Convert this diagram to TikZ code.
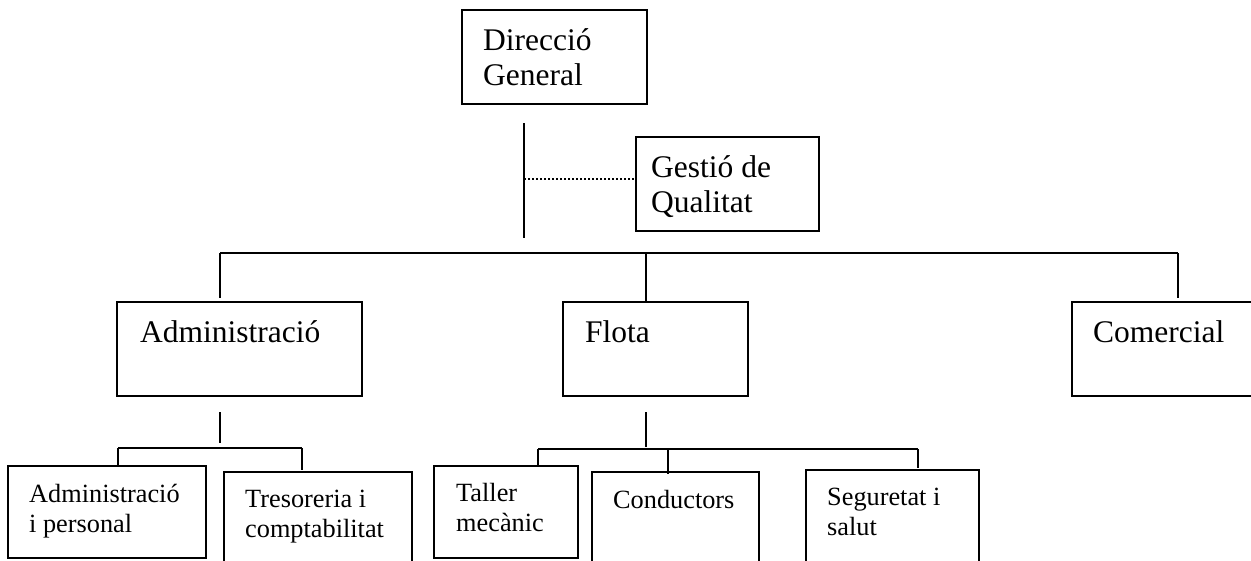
\documentclass[tikz,border=0pt]{standalone}
\usepackage{fontspec}
\setmainfont{Liberation Serif}
\usetikzlibrary{calc}
\begin{document}
\begin{tikzpicture}[x=1pt,y=-1pt,
  box/.style={draw, line width=1.5pt, rectangle, inner sep=0pt},
  bigtxt/.style={inner sep=0pt, anchor=base west, align=left, font=\fontsize{31.5}{35}\selectfont},
  smalltxt/.style={inner sep=0pt, anchor=base west, align=left, font=\fontsize{26.3}{29.5}\selectfont},
  conn/.style={line width=1.5pt},
  dotconn/.style={line width=2pt, dash pattern=on 2pt off 2pt}]
\useasboundingbox (0,0) rectangle (1251,560);
\clip (0,0) rectangle (1251,560);
% boxes
\node[box, minimum width=185pt, minimum height=94pt] (dg) at (554.5,57) {};
\node[box, minimum width=183pt, minimum height=94pt] (gq) at (727.5,184) {};
\node[box, minimum width=245pt, minimum height=94pt] (adm) at (239.5,349) {};
\node[box, minimum width=185pt, minimum height=94pt] (flo) at (655.5,349) {};
\node[box, minimum width=200pt, minimum height=94pt] (com) at (1172,349) {};
\node[box, minimum width=198pt, minimum height=92pt] (aip) at (107,512) {};
\node[box, minimum width=188pt, minimum height=110pt] (tic) at (318,527) {};
\node[box, minimum width=144pt, minimum height=92pt] (tm) at (506,512) {};
\node[box, minimum width=167pt, minimum height=110pt] (con) at (675.5,527) {};
\node[box, minimum width=173pt, minimum height=110pt] (ss) at (892.5,525) {};
% texts (anchor = baseline of the last line)
\node[bigtxt] (dgt) at (483,85) {Direcció\\General};
\node[bigtxt] (gqt) at (651,212) {Gestió de\\Qualitat};
\node[bigtxt] (admt) at (140,342) {Administració};
\node[bigtxt] (flot) at (585,342) {Flota};
\node[bigtxt] (comt) at (1093,342) {Comercial};
\node[smalltxt] (aipt) at (29,532) {Administració\\i personal};
\node[smalltxt] (tict) at (245,537) {Tresoreria i\\comptabilitat};
\node[smalltxt] (tmt) at (456,531) {Taller\\mecànic};
\node[smalltxt] (cont) at (613,508) {Conductors};
\node[smalltxt] (sst) at (827,535) {Seguretat i\\salut};
% top connectors
\coordinate (v1) at (524,123);
\coordinate (v2) at (524,238);
\coordinate (dq) at (524,179);
\draw[conn] (v1) -- (v2);
\draw[dotconn] (dq) -- (dq -| gq.west);
\coordinate (h1) at (220,253);
\coordinate (h2) at (1178,253);
\coordinate (hf) at (646,253);
\draw[conn] (h1) -- (h2);
\draw[conn] (h1) -- ++(0,45);
\draw[conn] (hf) -- (hf |- flo.north);
\draw[conn] (h2) -- ++(0,45);
% administració subtree
\coordinate (a1) at (220,412);
\coordinate (a2) at (220,443);
\coordinate (al) at (118,448);
\coordinate (ar) at (302,448);
\draw[conn] (a1) -- (a2);
\draw[conn] (al) -- (ar);
\draw[conn] (al) -- (al |- aip.north);
\draw[conn] (ar) -- ++(0,22);
% flota subtree
\coordinate (f1) at (646,412);
\coordinate (f2) at (646,447);
\coordinate (fl) at (538,449);
\coordinate (fm) at (668,449);
\coordinate (fr) at (918,449);
\draw[conn] (f1) -- (f2);
\draw[conn] (fl) -- (fr);
\draw[conn] (fl) -- (fl |- tm.north);
\draw[conn] (fm) -- ($(fm |- con.north)+(0,3)$);
\draw[conn] (fr) -- ++(0,19);
\end{tikzpicture}
\end{document}
